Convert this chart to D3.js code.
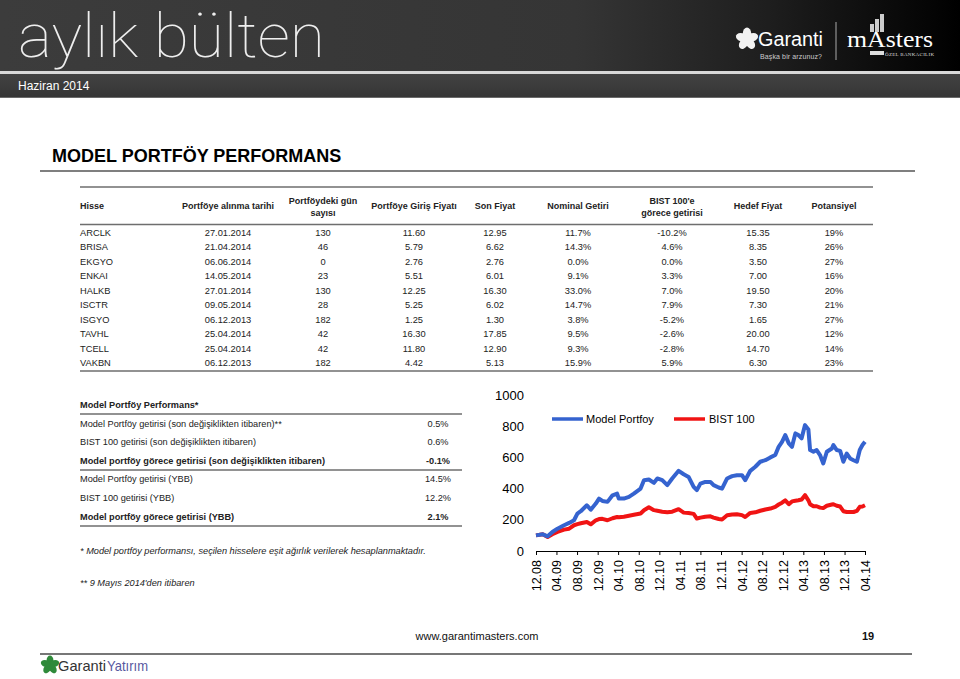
<!DOCTYPE html>
<html><head><meta charset="utf-8">
<script src="https://cdn.jsdelivr.net/npm/d3@7"></script>
<style>
body{margin:0;background:#fff}
svg{display:block;font-family:Arial,"Liberation Sans",Helvetica,sans-serif}
</style></head>
<body><svg id="page" width="960" height="679"></svg>
<script>
// ---------- DATA ----------
const dates = ["2008-12-01","2009-01-10","2009-02-08","2009-03-08","2009-04-07","2009-05-16","2009-06-15","2009-07-14","2009-08-03","2009-08-23","2009-09-28","2009-10-21","2009-11-20","2009-12-09","2009-12-29","2010-01-28","2010-02-27","2010-03-26","2010-04-05","2010-05-05","2010-06-04","2010-07-03","2010-08-12","2010-09-01","2010-09-30","2010-10-30","2010-11-19","2010-12-18","2011-01-17","2011-02-15","2011-03-25","2011-04-24","2011-05-23","2011-06-22","2011-07-11","2011-08-01","2011-08-30","2011-09-29","2011-10-18","2011-11-17","2011-12-07","2012-01-06","2012-02-05","2012-03-04","2012-04-03","2012-04-22","2012-05-22","2012-06-21","2012-07-20","2012-08-19","2012-09-18","2012-10-17","2012-11-06","2012-11-26","2012-12-15","2013-01-05","2013-01-24","2013-02-13","2013-03-03","2013-03-22","2013-04-11","2013-05-01","2013-05-11","2013-05-31","2013-06-19","2013-07-09","2013-07-28","2013-08-18","2013-09-17","2013-09-26","2013-10-16","2013-11-05","2013-11-24","2013-12-14","2014-01-03","2014-01-23","2014-02-12","2014-03-01","2014-03-17","2014-04-01"];
const modelPortfoy = [100,107,94,122,143,165,180,197,240,255,293,265,304,336,321,315,357,368,336,336,347,368,400,454,458,437,465,454,422,465,514,492,475,411,390,432,443,443,422,407,400,465,480,486,486,454,514,540,572,582,600,615,668,700,743,690,668,754,743,722,807,779,647,636,647,615,561,636,657,679,647,642,572,625,593,582,572,647,679,700];
const bist100 = [100,107,90,107,122,137,143,165,172,178,186,171,197,205,206,197,210,218,216,220,226,232,240,261,280,262,258,252,248,252,268,246,243,238,208,214,220,222,214,205,202,229,234,236,230,218,244,248,258,266,272,283,298,310,325,300,318,322,325,330,358,325,300,287,287,278,275,290,298,300,290,285,255,250,250,250,257,283,285,293];
const seriesNames = ["Model Portfoy","BIST 100"];
const xTickLabels = ["12.08","04.09","08.09","12.09","04.10","08.10","12.10","04.11","08.11","12.11","04.12","08.12","12.12","04.13","08.13","12.13","04.14"];
const yTickValues = [0,200,400,600,800,1000];

const tableHeaders = [["Hisse"],["Portföye alınma tarihi"],["Portföydeki gün","sayısı"],["Portföye Giriş Fiyatı"],["Son Fiyat"],["Nominal Getiri"],["BIST 100'e","görece getirisi"],["Hedef Fiyat"],["Potansiyel"]];
const stocks = ["ARCLK","BRISA","EKGYO","ENKAI","HALKB","ISCTR","ISGYO","TAVHL","TCELL","VAKBN"];
const buyDates = ["27.01.2014","21.04.2014","06.06.2014","14.05.2014","27.01.2014","09.05.2014","06.12.2013","25.04.2014","25.04.2014","06.12.2013"];
const daysHeld = [130,46,0,23,130,28,182,42,42,182];
const entryPrice = ["11.60","5.79","2.76","5.51","12.25","5.25","1.25","16.30","11.80","4.42"];
const lastPrice = ["12.95","6.62","2.76","6.01","16.30","6.02","1.30","17.85","12.90","5.13"];
const nominalReturn = ["11.7%","14.3%","0.0%","9.1%","33.0%","14.7%","3.8%","9.5%","9.3%","15.9%"];
const relReturn = ["-10.2%","4.6%","0.0%","3.3%","7.0%","7.9%","-5.2%","-2.6%","-2.8%","5.9%"];
const targetPrice = ["15.35","8.35","3.50","7.00","19.50","7.30","1.65","20.00","14.70","6.30"];
const potential = ["19%","26%","27%","16%","20%","21%","27%","12%","14%","23%"];

const perfTitle = "Model Portföy Performans*";
const perfLabels = ["Model Portföy getirisi (son değişiklikten itibaren)**","BIST 100 getirisi (son değişiklikten itibaren)","Model portföy görece getirisi (son değişiklikten itibaren)","Model Portföy getirisi (YBB)","BIST 100 getirisi (YBB)","Model portföy görece getirisi (YBB)"];
const perfValues = ["0.5%","0.6%","-0.1%","14.5%","12.2%","2.1%"];
const perfBold = [false,false,true,false,false,true];
const footnotes = ["* Model portföy performansı, seçilen hisselere eşit ağırlık verilerek hesaplanmaktadır.","** 9 Mayıs 2014'den itibaren"];

// ---------- DRAW ----------
const svg = d3.select("#page");
const defs = svg.append("defs");
const g1 = defs.append("linearGradient").attr("id","hdr").attr("x1","0").attr("x2","1");
g1.append("stop").attr("offset","0").attr("stop-color","#3c3c3c");
g1.append("stop").attr("offset","0.6").attr("stop-color","#353535");
g1.append("stop").attr("offset","0.8").attr("stop-color","#1e1e1e");
g1.append("stop").attr("offset","1").attr("stop-color","#000");
const g2 = defs.append("linearGradient").attr("id","bar").attr("x1","0").attr("x2","0").attr("y1","0").attr("y2","1");
g2.append("stop").attr("offset","0").attr("stop-color","#424242");
g2.append("stop").attr("offset","1").attr("stop-color","#353535");

// header
svg.append("rect").attr("x",0).attr("y",0).attr("width",960).attr("height",71).attr("fill","url(#hdr)");
svg.append("rect").attr("x",0).attr("y",71).attr("width",960).attr("height",3).attr("fill","#d8d8d8");
svg.append("rect").attr("x",0).attr("y",74).attr("width",960).attr("height",24).attr("fill","url(#bar)");
svg.append("rect").attr("x",0).attr("y",97).attr("width",960).attr("height",1).attr("fill","#6a6a6a");
svg.append("text").attr("x",18).attr("y",57).attr("fill","#eee")
  .style("font-family","Roboto,Lato,'Open Sans',sans-serif").style("font-weight",100).style("font-size","62px")
  .attr("textLength",307).attr("lengthAdjust","spacingAndGlyphs").text("aylık bülten");
svg.append("text").attr("x",18).attr("y",90).attr("fill","#fff").style("font-size","12px").text("Haziran 2014");

function clover(g, cx, cy, s, col){
  const gg = g.append("g").attr("transform",`translate(${cx},${cy}) scale(${s})`);
  [0,72,144,216,288].forEach(a=>{
    gg.append("ellipse").attr("cx",0).attr("cy",-5).attr("rx",3.6).attr("ry",5)
      .attr("transform",`rotate(${a})`).attr("fill",col);
  });
}
clover(svg, 747, 39, 1.15, "#f2f2f2");
svg.append("text").attr("x",758).attr("y",46).attr("fill","#fff").style("font-size","20px")
  .attr("textLength",65).attr("lengthAdjust","spacingAndGlyphs").text("Garanti");
svg.append("text").attr("x",760).attr("y",59).attr("fill","#ccc").style("font-size","7px")
  .attr("textLength",62).text("Başka bir arzunuz?");
svg.append("line").attr("x1",836).attr("x2",836).attr("y1",22).attr("y2",60).attr("stroke","#aaa").attr("stroke-width",1);
[[870,24,4],[875,19,4],[880,14,4]].forEach(([x,y,w])=>{
  svg.append("rect").attr("x",x).attr("y",y).attr("width",w).attr("height",32-y).attr("fill","#ccc");
});
svg.append("text").attr("x",847).attr("y",47).attr("fill","#fff")
  .style("font-family","'Liberation Serif','DejaVu Serif',serif").style("font-size","24px")
  .attr("textLength",86).attr("lengthAdjust","spacingAndGlyphs").text("mAsters");
svg.append("rect").attr("x",870).attr("y",51).attr("width",14).attr("height",4).attr("fill","#ddd");
svg.append("text").attr("x",885).attr("y",56).attr("fill","#ddd")
  .style("font-family","'Liberation Serif',serif").style("font-size","5px")
  .attr("textLength",49).text("ÖZEL BANKACILIK");

// title
svg.append("text").attr("x",52).attr("y",162).style("font-size","18px").style("font-weight","bold").attr("fill","#000")
  .text("MODEL PORTFÖY PERFORMANS");
svg.append("line").attr("x1",40).attr("x2",915).attr("y1",171).attr("y2",171).attr("stroke","#555").attr("stroke-width",1.3);

// stock table
const colX = [80,228,323,414,495,578,672,758,834];
const tbl = svg.append("g").style("font-size","9.3px").attr("fill","#222");
const lineC = "#6e6e6e";
[187,224.5,371].forEach(y=>tbl.append("line").attr("x1",80).attr("x2",873).attr("y1",y).attr("y2",y).attr("stroke",lineC).attr("stroke-width",1.4));
tableHeaders.forEach((h,i)=>{
  const ys = h.length===1 ? [209] : [204,215.5];
  h.forEach((t,k)=>tbl.append("text").attr("x",colX[i]).attr("y",ys[k])
    .attr("text-anchor",i===0?"start":"middle").style("font-weight","bold").style("font-size","9px").text(t));
});
const cols = [stocks,buyDates,daysHeld,entryPrice,lastPrice,nominalReturn,relReturn,targetPrice,potential];
stocks.forEach((s,r)=>{
  const y = 236 + r*14.44;
  cols.forEach((c,i)=>tbl.append("text").attr("x",colX[i]).attr("y",y)
    .attr("text-anchor",i===0?"start":"middle").text(c[r]));
});

// performance box
const pf = svg.append("g").style("font-size","9.2px").attr("fill","#222");
pf.append("text").attr("x",80).attr("y",408).style("font-weight","bold").text(perfTitle);
[414,470,526].forEach(y=>pf.append("line").attr("x1",80).attr("x2",462).attr("y1",y).attr("y2",y).attr("stroke",lineC).attr("stroke-width",1.4));
const perfY = [426.5,445.3,464,482.3,501,519.5];
perfLabels.forEach((l,i)=>{
  pf.append("text").attr("x",80).attr("y",perfY[i]).style("font-weight",perfBold[i]?"bold":"normal").text(l);
  pf.append("text").attr("x",438).attr("y",perfY[i]).attr("text-anchor","middle").style("font-weight",perfBold[i]?"bold":"normal").text(perfValues[i]);
});
pf.append("text").attr("x",80).attr("y",554).style("font-style","italic").text(footnotes[0]);
pf.append("text").attr("x",80).attr("y",585.5).style("font-style","italic").text(footnotes[1]);

// ---------- CHART ----------
const parse = d3.timeParse("%Y-%m-%d");
const parseTick = d3.timeParse("%m.%y");
const fmtTick = d3.timeFormat("%m.%y");
const tickDates = xTickLabels.map(parseTick);
const x = d3.scaleTime().domain([tickDates[0], tickDates[tickDates.length-1]]).range([536,865]);
const y = d3.scaleLinear().domain([0,1000]).range([551,395]);
const chart = svg.append("g");

const xAxis = chart.append("g").attr("transform","translate(0,551)")
  .call(d3.axisBottom(x).tickValues(tickDates).tickFormat(fmtTick).tickSizeInner(4).tickSizeOuter(0));
xAxis.select(".domain").attr("stroke","#000").attr("stroke-width",1);
xAxis.selectAll(".tick line").attr("stroke","#000");
xAxis.selectAll("text").attr("transform","rotate(-90)").attr("text-anchor","end")
  .attr("x",-9).attr("y",0).attr("dy","0.35em").style("font-size","12.5px").style("font-family","Arial,'Liberation Sans',sans-serif").attr("fill","#000");

const yAxis = chart.append("g").attr("transform","translate(526,0)")
  .call(d3.axisLeft(y).tickValues(yTickValues).tickFormat(d3.format("d")).tickSize(0).tickPadding(2));
yAxis.select(".domain").remove();
yAxis.selectAll("text").style("font-size","13px").style("font-family","Arial,'Liberation Sans',sans-serif").attr("fill","#000");

const pts = dates.map((d,i)=>({d:parse(d), m:modelPortfoy[i], b:bist100[i]}));
const colors = ["#3563cf","#f01414"];
const lineB = d3.line().x(p=>x(p.d)).y(p=>y(p.b));
const lineM = d3.line().x(p=>x(p.d)).y(p=>y(p.m));
chart.append("path").datum(pts).attr("d",lineB).attr("fill","none").attr("stroke",colors[1]).attr("stroke-width",4).attr("stroke-linejoin","round");
chart.append("path").datum(pts).attr("d",lineM).attr("fill","none").attr("stroke",colors[0]).attr("stroke-width",4).attr("stroke-linejoin","round");

// legend
const legend = chart.append("g").style("font-size","11px");
[[552,586],[674,709]].forEach(([lx,tx],i)=>{
  legend.append("line").attr("x1",lx).attr("x2",lx+31).attr("y1",419).attr("y2",419).attr("stroke",colors[i]).attr("stroke-width",3.5);
  legend.append("text").attr("x",tx).attr("y",423).attr("fill","#000").text(seriesNames[i]);
});

// footer
svg.append("text").attr("x",477).attr("y",640).attr("text-anchor","middle").style("font-size","11px").attr("fill","#111").text("www.garantimasters.com");
svg.append("text").attr("x",862).attr("y",640).style("font-size","11px").style("font-weight","bold").attr("fill","#111").text("19");
svg.append("line").attr("x1",40).attr("x2",912).attr("y1",654).attr("y2",654).attr("stroke","#777").attr("stroke-width",2);
clover(svg, 50, 665, 0.95, "#2f8a3a");
svg.append("text").attr("x",58).attr("y",671).style("font-size","15px").attr("fill","#333")
  .attr("textLength",48).attr("lengthAdjust","spacingAndGlyphs").text("Garanti");
svg.append("text").attr("x",107).attr("y",671).style("font-size","15px").attr("fill","#5858a0")
  .attr("textLength",41).attr("lengthAdjust","spacingAndGlyphs").text("Yatırım");
</script></body></html>
